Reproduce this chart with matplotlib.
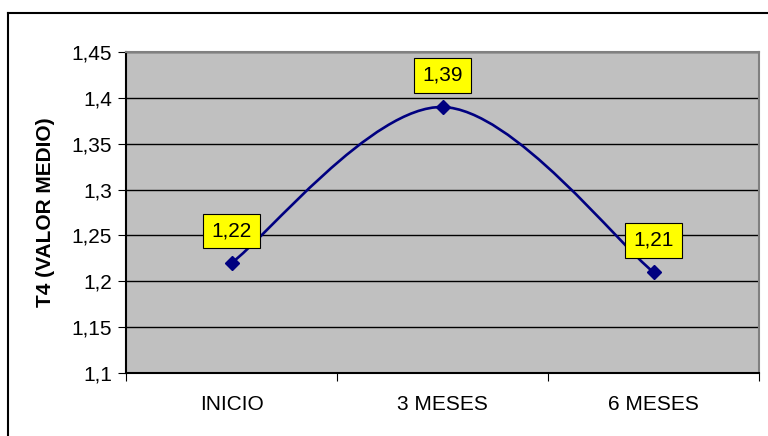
import matplotlib.pyplot as plt
from matplotlib.path import Path
from matplotlib.patches import PathPatch
from matplotlib.lines import Line2D

plt.rcParams['font.family'] = ['Liberation Sans', 'DejaVu Sans']

# data
categories = ['INICIO', '3 MESES', '6 MESES']
values = [1.22, 1.39, 1.21]
y_ticks = [1.1, 1.15, 1.2, 1.25, 1.3, 1.35, 1.4, 1.45]

FS = 15

fig = plt.figure(figsize=(7.68, 4.36), dpi=100)
ax = fig.add_axes([126/768, 1-373/436, (759-126)/768, (373-52)/436])
ax.set_facecolor('#C0C0C0')

# outer chart border (top and left visible)
fig.add_artist(Line2D([8/768, 1.0], [1-13/436, 1-13/436], transform=fig.transFigure, color='black', lw=1.5))
fig.add_artist(Line2D([8/768, 8/768], [0, 1-13/436], transform=fig.transFigure, color='black', lw=1.5))

# smoothed line (Excel-style bezier)
xs = list(range(len(values)))
pts = list(zip(xs, values))
verts = [pts[0]]
codes = [Path.MOVETO]
for i in range(len(pts) - 1):
    p0 = pts[i - 1] if i > 0 else pts[i]
    p1 = pts[i]
    p2 = pts[i + 1]
    p3 = pts[i + 2] if i + 2 < len(pts) else pts[i + 1]
    c1 = (p1[0] + (p2[0] - p0[0]) / 6, p1[1] + (p2[1] - p0[1]) / 6)
    c2 = (p2[0] - (p3[0] - p1[0]) / 6, p2[1] - (p3[1] - p1[1]) / 6)
    verts += [c1, c2, p2]
    codes += [Path.CURVE4] * 3
ax.add_patch(PathPatch(Path(verts, codes), facecolor='none', edgecolor='#000080', lw=1.9, zorder=3))
ax.plot(xs, values, linestyle='none', marker='D', markersize=7.5, color='#000080', zorder=4)

for x, v in zip(xs, values):
    ax.annotate(f'{v:.2f}'.replace('.', ','), (x, v), xytext=(0, 23), textcoords='offset points',
                ha='center', va='center', fontsize=FS, zorder=5,
                bbox=dict(boxstyle='square,pad=0.38', facecolor='#FFFF00', edgecolor='black', lw=0.8))

ax.set_xlim(-0.5, 2.5)
ax.set_ylim(1.1, 1.45)
ax.set_yticks(y_ticks)
ax.set_yticklabels([f'{t:g}'.replace('.', ',') for t in y_ticks], fontsize=FS)
ax.yaxis.grid(True, color='black', lw=1)
ax.set_axisbelow(True)

ax.set_xticks([-0.5, 0.5, 1.5, 2.5])
ax.set_xticklabels([])
ax.set_xticks(xs, minor=True)
ax.set_xticklabels(categories, minor=True, fontsize=FS)
ax.tick_params(axis='x', which='minor', length=0, pad=16)
ax.tick_params(axis='x', which='major', length=6, direction='out', color='black')
ax.tick_params(axis='y', length=6, direction='out', pad=4)

ax.spines['left'].set_color('black')
ax.spines['bottom'].set_color('black')
ax.spines['top'].set_color('#808080')
ax.spines['right'].set_color('#808080')
for s in ax.spines.values():
    s.set_linewidth(1.5)

ax.set_ylabel('T4 (VALOR MEDIO)', fontsize=FS, fontweight='bold', labelpad=12)

fig.savefig('out.png', dpi=100)
